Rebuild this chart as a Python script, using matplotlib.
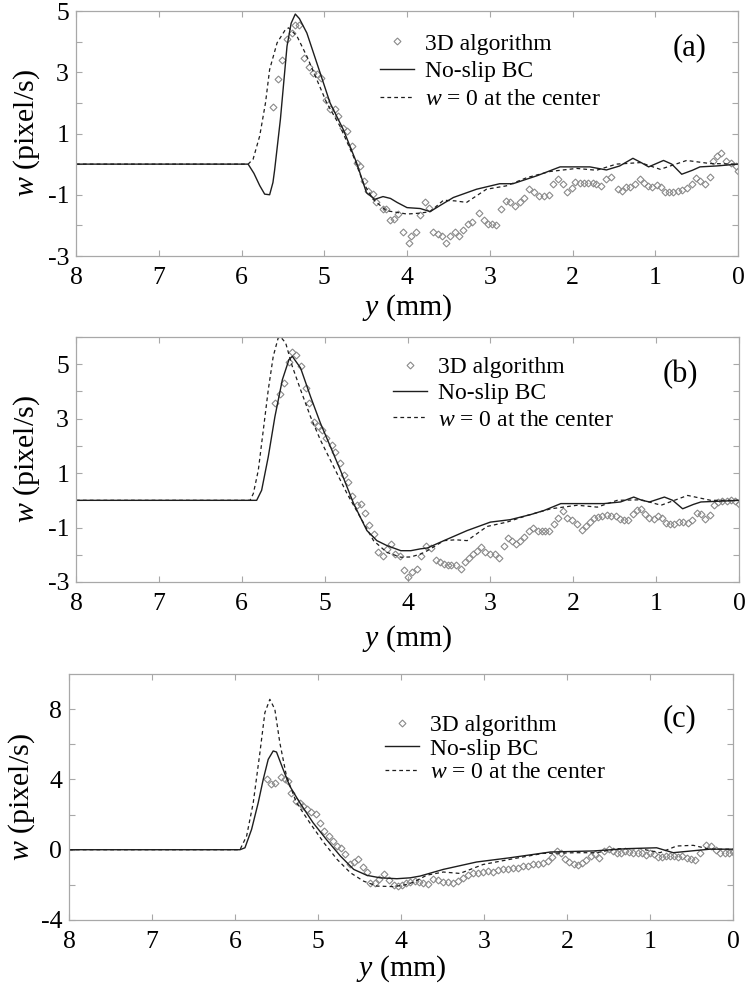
import numpy as np
import matplotlib
matplotlib.use("Agg")
import matplotlib.pyplot as plt
from matplotlib.ticker import FixedLocator, NullFormatter

plt.rcParams['font.family'] = ['Liberation Serif', 'DejaVu Serif']
plt.rcParams['mathtext.fontset'] = 'custom'
plt.rcParams['mathtext.rm'] = 'Liberation Serif'
plt.rcParams['mathtext.it'] = 'Liberation Serif:italic'
plt.rcParams['axes.unicode_minus'] = False

# ---------------- panel (a) ----------------
a_solid_y = [8.0, 5.92, 5.85, 5.78, 5.72, 5.66, 5.62, 5.60, 5.53, 5.45, 5.40, 5.35, 5.30,
             5.21, 5.05, 4.93, 4.77, 4.61, 4.49, 4.39, 4.29, 4.20, 4.12, 4.00, 3.84, 3.72,
             3.60, 3.44, 3.16, 2.88, 2.72, 2.43, 2.15, 1.79, 1.59, 1.43, 1.27, 1.17, 1.08,
             0.90, 0.80, 0.68, 0.55, 0.46, 0.26, 0.00]
a_solid_w = [0.0, 0.0, -0.30, -0.70, -0.98, -1.00, -0.60, -0.20, 1.46, 3.85, 4.60, 4.90, 4.75,
             4.28, 2.98, 2.00, 1.13, 0.05, -0.93, -1.15, -1.06, -1.12, -1.25, -1.42, -1.45, -1.55,
             -1.35, -1.09, -0.82, -0.64, -0.64, -0.38, -0.09, -0.09, -0.19, -0.06, 0.19, 0.05, -0.09,
             0.12, 0.00, -0.33, -0.20, -0.09, -0.06, 0.00]
a_dash_y = [8.0, 5.92, 5.86, 5.78, 5.71, 5.66, 5.57, 5.47, 5.43, 5.33, 5.21, 5.09, 4.97, 4.81,
            4.65, 4.53, 4.41, 4.25, 4.00, 3.84, 3.72, 3.56, 3.42, 3.28, 3.04, 2.80, 2.55, 2.27,
            1.95, 1.71, 1.47, 1.18, 0.94, 0.62, 0.34, 0.00]
a_dash_w = [0.0, 0.0, 0.16, 0.92, 2.00, 3.09, 3.96, 4.39, 4.45, 4.18, 3.52, 2.76, 2.00, 1.24,
            0.27, -0.60, -1.15, -1.52, -1.63, -1.60, -1.55, -1.18, -1.20, -1.25, -0.82, -0.71, -0.44, -0.24,
            -0.14, -0.20, 0.00, 0.05, -0.17, 0.12, 0.02, 0.00]
a_3d_y = [5.62, 5.56, 5.51, 5.45, 5.39, 5.35, 5.31, 5.25, 5.19, 5.13, 5.09, 5.04, 4.98, 4.93,
          4.87, 4.83, 4.77, 4.73, 4.67, 4.61, 4.57, 4.52, 4.47, 4.41, 4.37, 4.29, 4.25, 4.21,
          4.16, 4.11, 4.05, 3.98, 3.95, 3.89, 3.84, 3.78, 3.74, 3.68, 3.62, 3.58, 3.53, 3.48,
          3.42, 3.37, 3.32, 3.26, 3.22, 3.13, 3.07, 3.02, 2.97, 2.92, 2.86, 2.80, 2.76, 2.69,
          2.63, 2.59, 2.53, 2.47, 2.41, 2.35, 2.29, 2.23, 2.17, 2.12, 2.07, 2.01, 1.97, 1.91,
          1.86, 1.81, 1.75, 1.71, 1.66, 1.59, 1.53, 1.45, 1.40, 1.35, 1.30, 1.25, 1.19, 1.14,
          1.09, 1.04, 0.98, 0.93, 0.88, 0.83, 0.78, 0.73, 0.68, 0.62, 0.56, 0.51, 0.46, 0.40,
          0.34, 0.30, 0.25, 0.20, 0.14, 0.08, 0.03, 0.00]
a_3d_w = [1.87, 2.78, 3.41, 4.09, 4.28, 4.55, 4.55, 3.47, 3.18, 2.98, 2.93, 2.82, 2.11, 1.79,
          1.79, 1.57, 1.19, 1.08, 0.59, 0.05, -0.06, -0.55, -0.87, -0.98, -1.25, -1.47, -1.48, -1.82,
          -1.78, -1.63, -2.23, -2.56, -2.34, -2.23, -1.66, -1.25, -1.44, -2.21, -2.29, -2.35, -2.56, -2.34,
          -2.23, -2.34, -2.16, -1.94, -1.90, -1.61, -1.83, -1.94, -1.96, -1.98, -1.47, -1.22, -1.25, -1.36,
          -1.25, -1.09, -0.80, -0.92, -1.04, -1.04, -1.00, -0.66, -0.49, -0.66, -0.90, -0.78, -0.57, -0.61,
          -0.61, -0.60, -0.61, -0.66, -0.71, -0.47, -0.41, -0.82, -0.87, -0.74, -0.74, -0.64, -0.47, -0.60,
          -0.71, -0.74, -0.68, -0.76, -0.90, -0.90, -0.90, -0.87, -0.85, -0.78, -0.64, -0.46, -0.55, -0.64,
          -0.41, 0.10, 0.26, 0.37, 0.10, 0.05, -0.06, -0.22]

# ---------------- panel (b) ----------------
b_solid_y = [8.0, 5.82, 5.76, 5.68, 5.60, 5.51, 5.43, 5.39, 5.29, 5.17, 5.05, 4.93, 4.81, 4.65,
             4.49, 4.37, 4.25, 4.08, 3.96, 3.84, 3.76, 3.56, 3.28, 3.00, 2.76, 2.51, 2.35, 2.15,
             1.63, 1.43, 1.27, 1.17, 1.08, 0.90, 0.80, 0.68, 0.55, 0.46, 0.14, 0.00]
b_solid_w = [0.0, 0.0, 0.37, 1.60, 3.07, 4.43, 5.17, 5.29, 4.86, 3.81, 2.83, 1.97, 1.11, -0.12,
             -1.11, -1.48, -1.66, -1.85, -1.85, -1.78, -1.75, -1.48, -1.11, -0.80, -0.71, -0.52, -0.37, -0.12,
             -0.12, -0.06, 0.12, 0.00, -0.06, 0.12, 0.00, -0.31, -0.15, -0.06, -0.02, 0.00]
b_dash_y = [8.0, 5.90, 5.86, 5.80, 5.74, 5.68, 5.62, 5.56, 5.53, 5.47, 5.39, 5.29, 5.17, 5.05,
            4.89, 4.73, 4.57, 4.41, 4.25, 4.08, 3.96, 3.84, 3.76, 3.56, 3.42, 3.28, 3.04, 2.80,
            2.55, 2.27, 1.95, 1.71, 1.47, 1.18, 0.94, 0.62, 0.34, 0.00]
b_dash_w = [0.0, 0.0, 0.25, 1.11, 2.58, 4.06, 5.29, 5.97, 6.00, 5.78, 4.92, 4.06, 3.07, 2.21,
            1.23, 0.25, -0.62, -1.48, -1.91, -2.09, -2.08, -1.97, -1.85, -1.48, -1.45, -1.48, -0.96, -0.80,
            -0.55, -0.31, -0.18, -0.25, 0.00, 0.02, -0.18, 0.18, 0.00, 0.00]
b_3d_y = [5.60, 5.54, 5.49, 5.43, 5.39, 5.34, 5.28, 5.23, 5.19, 5.13, 5.08, 5.03, 4.98, 4.91,
          4.87, 4.82, 4.77, 4.72, 4.67, 4.61, 4.56, 4.51, 4.46, 4.41, 4.36, 4.30, 4.25, 4.20,
          4.15, 4.09, 4.04, 3.99, 3.95, 3.89, 3.84, 3.78, 3.72, 3.66, 3.61, 3.56, 3.51, 3.47,
          3.41, 3.36, 3.31, 3.26, 3.21, 3.16, 3.11, 3.06, 3.00, 2.95, 2.90, 2.84, 2.79, 2.74,
          2.69, 2.64, 2.59, 2.53, 2.48, 2.43, 2.38, 2.34, 2.29, 2.23, 2.18, 2.12, 2.07, 2.02,
          1.96, 1.90, 1.85, 1.80, 1.75, 1.70, 1.65, 1.59, 1.54, 1.49, 1.44, 1.39, 1.34, 1.28,
          1.23, 1.18, 1.13, 1.08, 1.03, 0.98, 0.93, 0.88, 0.83, 0.78, 0.73, 0.68, 0.62, 0.57,
          0.51, 0.46, 0.41, 0.35, 0.30, 0.25, 0.20, 0.15, 0.10, 0.05, 0.00]
b_3d_w = [3.59, 3.90, 4.31, 5.10, 5.44, 5.35, 4.94, 4.12, 3.57, 2.89, 2.72, 2.60, 2.30, 2.03,
          1.78, 1.38, 0.92, 0.68, 0.15, -0.18, -0.15, -0.46, -0.92, -1.23, -1.91, -2.03, -1.78, -1.60,
          -1.97, -2.06, -2.56, -2.83, -2.65, -2.52, -2.03, -1.66, -1.75, -2.21, -2.27, -2.34, -2.36, -2.36,
          -2.36, -2.52, -2.27, -2.11, -1.97, -1.85, -1.72, -1.91, -1.97, -1.97, -2.11, -1.66, -1.38, -1.48,
          -1.60, -1.50, -1.35, -1.11, -1.01, -1.11, -1.13, -1.13, -1.13, -0.86, -0.64, -0.39, -0.64, -0.74,
          -0.86, -1.08, -0.96, -0.80, -0.64, -0.62, -0.59, -0.55, -0.59, -0.59, -0.68, -0.71, -0.74, -0.52,
          -0.37, -0.31, -0.49, -0.64, -0.68, -0.59, -0.64, -0.84, -0.86, -0.86, -0.80, -0.80, -0.84, -0.74,
          -0.47, -0.52, -0.68, -0.55, -0.18, -0.06, -0.02, -0.02, 0.00, -0.02, -0.14]

# ---------------- panel (c) ----------------
c_solid_y = [8.0, 5.94, 5.88, 5.80, 5.72, 5.66, 5.60, 5.54, 5.50, 5.42, 5.34, 5.22, 5.06, 4.90,
             4.73, 4.57, 4.41, 4.25, 4.05, 3.89, 3.77, 3.49, 3.09, 2.69, 2.20, 1.68, 1.28, 0.92,
             0.72, 0.48, 0.28, 0.00]
c_solid_w = [0.0, 0.0, 0.11, 1.16, 2.68, 4.00, 5.14, 5.62, 5.56, 4.57, 3.62, 2.68, 1.54, 0.59,
             -0.36, -1.12, -1.46, -1.60, -1.65, -1.60, -1.50, -1.12, -0.70, -0.46, -0.13, -0.07, 0.06, 0.11,
             -0.17, -0.06, 0.03, 0.03]
c_dash_y = [8.0, 5.94, 5.86, 5.78, 5.70, 5.64, 5.58, 5.52, 5.46, 5.38, 5.26, 5.10, 4.93, 4.77,
            4.61, 4.45, 4.29, 4.09, 3.95, 3.85, 3.69, 3.49, 3.29, 3.01, 2.69, 2.29, 1.88, 1.64,
            1.40, 1.12, 0.88, 0.68, 0.48, 0.28, 0.00]
c_dash_w = [0.0, 0.0, 0.78, 2.68, 5.52, 7.80, 8.56, 7.99, 6.09, 4.19, 2.68, 1.54, 0.40, -0.55,
            -1.31, -1.79, -2.07, -2.10, -2.00, -1.85, -1.45, -1.27, -1.35, -0.84, -0.55, -0.21, -0.17, -0.17,
            0.06, 0.06, -0.17, 0.21, 0.25, 0.03, 0.03]
c_3d_y = [5.62, 5.57, 5.52, 5.45, 5.40, 5.36, 5.32, 5.26, 5.22, 5.18, 5.13, 5.09, 5.03, 4.98,
          4.93, 4.87, 4.82, 4.77, 4.72, 4.67, 4.61, 4.57, 4.52, 4.46, 4.41, 4.37, 4.31, 4.26,
          4.21, 4.15, 4.09, 4.04, 3.99, 3.94, 3.89, 3.83, 3.78, 3.73, 3.67, 3.61, 3.55, 3.49,
          3.43, 3.37, 3.31, 3.25, 3.19, 3.13, 3.07, 3.01, 2.95, 2.89, 2.83, 2.77, 2.71, 2.65,
          2.59, 2.53, 2.47, 2.41, 2.35, 2.29, 2.23, 2.18, 2.12, 2.07, 2.02, 1.97, 1.92, 1.87,
          1.82, 1.77, 1.71, 1.66, 1.61, 1.55, 1.50, 1.45, 1.40, 1.35, 1.30, 1.25, 1.20, 1.15,
          1.10, 1.05, 1.00, 0.95, 0.90, 0.86, 0.81, 0.76, 0.71, 0.66, 0.61, 0.56, 0.51, 0.46,
          0.40, 0.32, 0.26, 0.21, 0.16, 0.10, 0.05, 0.00]
c_3d_w = [4.04, 3.72, 3.78, 4.16, 4.04, 3.91, 3.25, 2.77, 2.68, 2.49, 2.30, 2.15, 2.01, 1.50,
          1.06, 0.78, 0.49, 0.21, 0.11, -0.27, -0.84, -0.70, -0.51, -0.97, -1.27, -1.88, -1.92, -1.69,
          -1.41, -1.73, -1.98, -2.07, -1.98, -1.88, -1.84, -1.79, -1.84, -1.88, -1.97, -1.65, -1.73, -1.84,
          -1.84, -1.92, -1.78, -1.60, -1.46, -1.35, -1.31, -1.27, -1.22, -1.27, -1.16, -1.08, -1.08, -1.03,
          -1.03, -0.93, -0.93, -0.84, -0.80, -0.74, -0.65, -0.40, -0.07, -0.21, -0.51, -0.70, -0.84, -0.89,
          -0.78, -0.59, -0.36, -0.27, -0.46, -0.08, 0.06, -0.08, -0.17, -0.17, -0.08, -0.13, -0.21, -0.17,
          -0.21, -0.32, -0.17, -0.27, -0.40, -0.40, -0.36, -0.36, -0.36, -0.40, -0.36, -0.46, -0.51, -0.59,
          -0.17, 0.25, 0.21, -0.02, -0.17, -0.17, -0.17, -0.13]

x_ticks = [8, 7, 6, 5, 4, 3, 2, 1, 0]
a_yticks = [5, 3, 1, -1, -3]
a_yminor = [4, 2, 0, -2]
b_yticks = [5, 3, 1, -1, -3]
b_yminor = [6, 4, 2, 0, -2]
c_yticks = [8, 4, 0, -4]
c_yminor = [6, 2, -2]

labels = ['3D algorithm', 'No-slip BC', r'$w$ = 0 at the center']
spine_col = '#a8a8a8'

fig = plt.figure(figsize=(7.5, 9.91), dpi=100)

panels = [
    dict(yd=a_3d_y, wd=a_3d_w, ys=a_solid_y, ws=a_solid_w, yq=a_dash_y, wq=a_dash_w,
         ylim=(-3, 5), yt=a_yticks, ym=a_yminor, rect=(76, 11, 738, 256),
         tag='(a)', tagpos=(0.927, 0.85), leg=(0.459, 0.91), lsp=0.26, ylab=-0.051, xlab=-0.15),
    dict(yd=b_3d_y, wd=b_3d_w, ys=b_solid_y, ws=b_solid_w, yq=b_dash_y, wq=b_dash_w,
         ylim=(-3, 6), yt=b_yticks, ym=b_yminor, rect=(76, 337, 739, 582),
         tag='(b)', tagpos=(0.911, 0.845), leg=(0.478, 0.92), lsp=0.2, ylab=-0.051, xlab=-0.167),
    dict(yd=c_3d_y, wd=c_3d_w, ys=c_solid_y, ws=c_solid_w, yq=c_dash_y, wq=c_dash_w,
         ylim=(-4, 10), yt=c_yticks, ym=c_yminor, rect=(69, 674, 733, 920),
         tag='(c)', tagpos=(0.92, 0.82), leg=(0.476, 0.835), lsp=0.08, ylab=-0.048, xlab=-0.134),
]

W, H = 750, 991
for p in panels:
    l, t, r, b = p['rect']
    ax = fig.add_axes([l / W, 1 - b / H, (r - l) / W, (b - t) / H])
    ax.plot(p['yd'], p['wd'], linestyle='none', marker='D', markersize=3.5,
            markerfacecolor='none', markeredgecolor='#8a8a8a', markeredgewidth=0.8,
            label=labels[0])
    ax.plot(p['ys'], p['ws'], color='#1e1e1e', lw=1.0, label=labels[1])
    ax.plot(p['yq'], p['wq'], color='#1e1e1e', lw=0.9, dashes=(3, 2.5), label=labels[2])
    ax.set_xlim(8, 0)
    ax.set_ylim(*p['ylim'])
    ax.xaxis.set_major_locator(FixedLocator(x_ticks))
    ax.set_xticklabels([str(v) for v in x_ticks])
    ax.yaxis.set_major_locator(FixedLocator(p['yt']))
    ax.set_yticklabels([str(v) for v in p['yt']])
    ax.yaxis.set_minor_locator(FixedLocator(p['ym']))
    ax.yaxis.set_minor_formatter(NullFormatter())
    ax.tick_params(which='both', direction='in', top=True, right=True, length=4.5,
                   width=0.8, color=spine_col, labelsize=18.5)
    ax.tick_params(axis='x', pad=8)
    ax.tick_params(axis='y', pad=5)
    for s in ax.spines.values():
        s.set_color(spine_col)
        s.set_linewidth(0.9)
    ax.set_ylabel(r'$w$ (pixel/s)', fontsize=21.5)
    ax.yaxis.set_label_coords(p['ylab'], 0.5)
    ax.set_xlabel(r'$y$ (mm)', fontsize=21.5)
    ax.xaxis.set_label_coords(0.5, p['xlab'])
    ax.text(p['tagpos'][0], p['tagpos'][1], p['tag'], transform=ax.transAxes,
            fontsize=22, ha='center', va='center')
    ax.legend(loc='upper left', bbox_to_anchor=p['leg'], frameon=False, fontsize=17,
              borderpad=0, borderaxespad=0, handlelength=1.45, handletextpad=0.45,
              labelspacing=p['lsp'], numpoints=1)

plt.savefig('out.png', dpi=100)
